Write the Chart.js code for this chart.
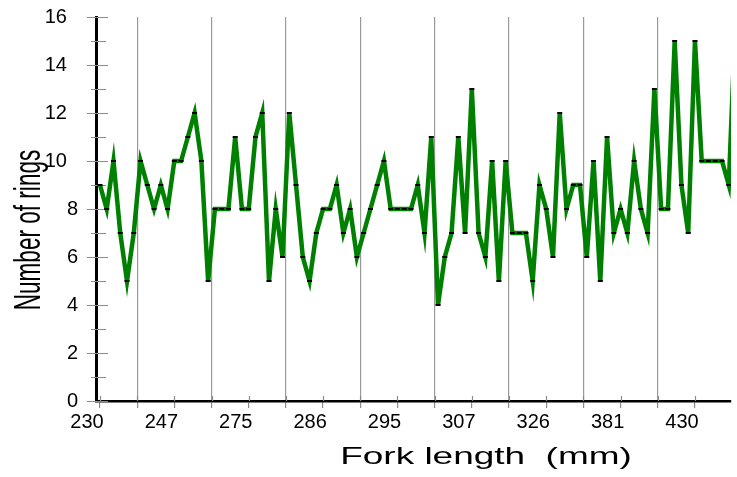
<!DOCTYPE html>
<html>
<head>
<meta charset="utf-8">
<script src="https://cdn.jsdelivr.net/npm/chart.js@4"></script>
<style>
  html, body { margin: 0; padding: 0; background: #fff; }
  #wrap { width: 737px; height: 477px; }
</style>
</head>
<body>
<div id="wrap"><canvas id="chart"></canvas></div>
<script>
// fork length labels, one every 11 fish
const forkLabels = ["230", "247", "275", "286", "295", "307", "326", "381", "430"];
const labelEvery = 11;

// ring counts, one per fish in order of fork length
const rings = [
  9, 8, 10, 7, 5, 7, 10, 9, 8, 9, 8,
  10, 10, 11, 12, 10, 5, 8, 8, 8, 11, 8,
  8, 11, 12, 5, 8, 6, 12, 9, 6, 5, 7,
  8, 8, 9, 7, 8, 6, 7, 8, 9, 10, 8,
  8, 8, 8, 9, 7, 11, 4, 6, 7, 11, 7,
  13, 7, 6, 10, 5, 10, 7, 7, 7, 5, 9,
  8, 6, 12, 8, 9, 9, 6, 10, 5, 11, 7,
  8, 7, 10, 8, 7, 13, 8, 8, 15, 9, 7,
  15, 10, 10, 10, 10, 9, 16
];

const yTicks = [0, 2, 4, 6, 8, 10, 12, 14, 16];

const points = rings.map((v, i) => ({ x: i, y: v }));

// tick marks reaching into the plot, and the two axis titles
const axisExtras = {
  id: "axisExtras",
  beforeDatasetsDraw(chart) {
    const { ctx, chartArea, scales } = chart;
    ctx.save();
    ctx.strokeStyle = "#8c8c8c";
    ctx.lineWidth = 1.2;
    ctx.beginPath();
    scales.y.ticks.forEach((t) => {
      const py = Math.round(scales.y.getPixelForValue(t.value)) + 0.5;
      const major = t.value % 2 === 0;
      ctx.moveTo(chartArea.left - (major ? 9 : 5), py);
      ctx.lineTo(chartArea.left + (major ? 12 : 10), py);
    });
    scales.x.ticks.forEach((t) => {
      const px = Math.round(scales.x.getPixelForValue(t.value)) + 0.5;
      ctx.moveTo(px, chartArea.bottom);
      ctx.lineTo(px, chartArea.bottom - 5);
    });
    ctx.stroke();
    ctx.restore();
  },
  afterDraw(chart) {
    const { ctx } = chart;
    ctx.save();
    ctx.fillStyle = "#000";
    ctx.textAlign = "center";
    ctx.textBaseline = "alphabetic";

    ctx.save();
    ctx.font = '37px "Liberation Sans", Arial, sans-serif';
    ctx.translate(40, 230);
    ctx.rotate(-Math.PI / 2);
    ctx.scale(0.61, 1);
    ctx.fillText("Number of rings", 0, 0);
    ctx.restore();

    ctx.save();
    ctx.font = '24px "Liberation Sans", Arial, sans-serif';
    ctx.translate(486, 464);
    ctx.scale(1.54, 1);
    ctx.fillText("Fork length  (mm)", 0, 0);
    ctx.restore();

    ctx.restore();
  }
};

const ctx = document.getElementById("chart");

new Chart(ctx, {
  type: "line",
  data: {
    datasets: [
      {
        data: points,
        borderColor: "#008000",
        borderWidth: 4.5,
        tension: 0,
        pointStyle: "line",
        pointRadius: 2.5,
        pointBorderWidth: 2,
        pointBorderColor: "#000",
        pointBackgroundColor: "#000",
      },
    ],
  },
  options: {
    responsive: true,
    maintainAspectRatio: false,
    animation: false,
    events: [],
    layout: { padding: { top: 17, right: 0, left: 0, bottom: 0 } },
    plugins: {
      legend: { display: false },
      tooltip: { enabled: false },
    },
    scales: {
      x: {
        type: "linear",
        min: -0.586,
        max: 93.33,
        afterBuildTicks: (scale) => {
          const ticks = [];
          for (let k = 0; k * 5.5 <= 93.33; k++) ticks.push({ value: k * 5.5 });
          scale.ticks = ticks;
        },
        afterFit: (scale) => {
          scale.height = 76;
          scale.paddingLeft = 0;
          scale.paddingRight = 0;
        },
        border: { display: true, color: "#000", width: 2.5 },
        grid: {
          drawOnChartArea: true,
          lineWidth: 1.2,
          color: (c) => (c.tick && (c.tick.value / 5.5) % 2 === 1 ? "#9a9a9a" : "rgba(0,0,0,0)"),
          tickColor: "#8c8c8c",
          tickLength: 7,
        },
        ticks: {
          autoSkip: false,
          maxRotation: 0,
          minRotation: 0,
          padding: 2,
          labelOffset: -13,
          color: "#000",
          font: { family: '"Liberation Sans", Arial, sans-serif', size: 20 },
          callback: (value) => (value % labelEvery === 0 ? forkLabels[value / labelEvery] : ""),
        },
      },
      y: {
        min: 0,
        max: 16,
        afterFit: (scale) => {
          scale.width = 96;
          scale.paddingTop = 0;
          scale.paddingBottom = 0;
        },
        border: { display: true, color: "#000", width: 3 },
        grid: {
          drawOnChartArea: false,
          tickColor: "rgba(0,0,0,0)",
          tickLength: 9,
        },
        ticks: {
          stepSize: 1,
          autoSkip: false,
          padding: 9,
          color: "#000",
          font: { family: '"Liberation Sans", Arial, sans-serif', size: 20 },
          // two-digit labels sit a little further out
          callback: (value) => (yTicks.includes(value) ? (value >= 10 ? value + "  " : String(value)) : ""),
        },
      },
    },
  },
  plugins: [axisExtras],
});
</script>
</body>
</html>
